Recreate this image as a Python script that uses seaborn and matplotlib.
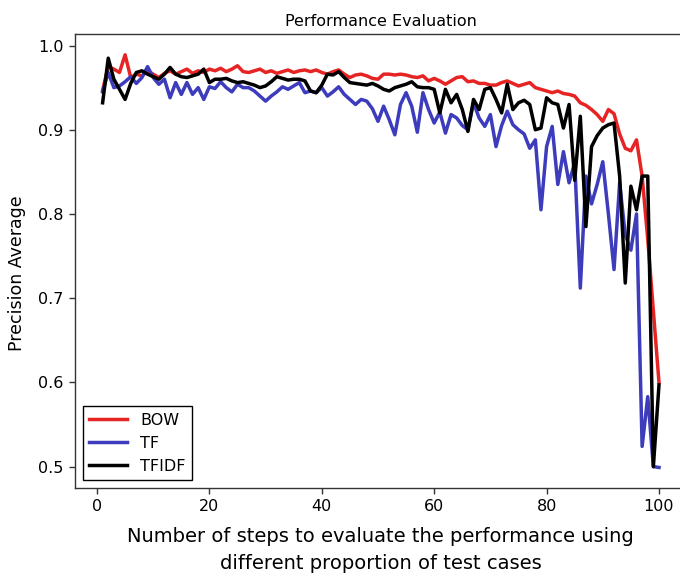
import numpy as np
import pandas as pd
import matplotlib
matplotlib.use("Agg")
import matplotlib.pyplot as plt
import seaborn as sns

steps = list(range(1, 101))

bow = [0.947, 0.975, 0.972, 0.968, 0.989, 0.962, 0.966, 0.964, 0.970, 0.966,
       0.962, 0.967, 0.970, 0.966, 0.969, 0.972, 0.967, 0.970, 0.968, 0.972,
       0.970, 0.973, 0.969, 0.972, 0.976, 0.969, 0.968, 0.970, 0.972, 0.968,
       0.970, 0.967, 0.969, 0.971, 0.968, 0.970, 0.971, 0.969, 0.971, 0.968,
       0.966, 0.969, 0.971, 0.966, 0.962, 0.965, 0.966, 0.964, 0.961, 0.960,
       0.966, 0.966, 0.965, 0.966, 0.965, 0.963, 0.962, 0.964, 0.958, 0.961,
       0.958, 0.954, 0.958, 0.962, 0.963, 0.957, 0.958, 0.955, 0.955, 0.953,
       0.953, 0.956, 0.958, 0.955, 0.952, 0.954, 0.956, 0.950, 0.948, 0.946,
       0.944, 0.946, 0.943, 0.942, 0.940, 0.932, 0.929, 0.924, 0.918, 0.910,
       0.924, 0.919, 0.895, 0.878, 0.875, 0.888, 0.845, 0.770, 0.685, 0.600]

tf = [0.945, 0.968, 0.950, 0.952, 0.957, 0.963, 0.955, 0.962, 0.975, 0.962,
      0.954, 0.960, 0.938, 0.956, 0.942, 0.956, 0.942, 0.950, 0.936, 0.951,
      0.949, 0.957, 0.950, 0.945, 0.954, 0.950, 0.950, 0.946, 0.940, 0.934,
      0.940, 0.945, 0.951, 0.948, 0.952, 0.956, 0.944, 0.946, 0.944, 0.950,
      0.940, 0.945, 0.951, 0.942, 0.936, 0.930, 0.936, 0.934, 0.925, 0.910,
      0.928, 0.912, 0.894, 0.930, 0.944, 0.928, 0.897, 0.944, 0.924, 0.908,
      0.921, 0.896, 0.918, 0.914, 0.905, 0.900, 0.932, 0.914, 0.904, 0.918,
      0.880, 0.905, 0.922, 0.906, 0.900, 0.895, 0.878, 0.888, 0.805, 0.880,
      0.904, 0.835, 0.874, 0.837, 0.861, 0.712, 0.845, 0.812, 0.835, 0.862,
      0.800, 0.734, 0.837, 0.775, 0.757, 0.800, 0.524, 0.583, 0.500, 0.499]

tfidf = [0.932, 0.985, 0.960, 0.948, 0.936, 0.955, 0.968, 0.970, 0.966, 0.963,
         0.960, 0.966, 0.974, 0.966, 0.963, 0.962, 0.964, 0.966, 0.972, 0.956,
         0.960, 0.960, 0.961, 0.958, 0.956, 0.957, 0.955, 0.953, 0.950, 0.952,
         0.957, 0.963, 0.961, 0.959, 0.960, 0.960, 0.958, 0.946, 0.944, 0.953,
         0.966, 0.965, 0.969, 0.962, 0.956, 0.955, 0.954, 0.953, 0.955, 0.952,
         0.948, 0.946, 0.950, 0.952, 0.954, 0.957, 0.951, 0.950, 0.950, 0.948,
         0.920, 0.948, 0.932, 0.942, 0.924, 0.898, 0.936, 0.924, 0.948, 0.950,
         0.936, 0.920, 0.954, 0.924, 0.932, 0.935, 0.930, 0.900, 0.902, 0.938,
         0.932, 0.930, 0.902, 0.930, 0.840, 0.916, 0.785, 0.880, 0.893, 0.902,
         0.906, 0.908, 0.845, 0.718, 0.833, 0.805, 0.845, 0.845, 0.500, 0.597]

methods = ["BOW", "TF", "TFIDF"]
colors = ["#e62424", "#3c3cbc", "#000000"]
x_ticks = [0, 20, 40, 60, 80, 100]
y_ticks = [0.5, 0.6, 0.7, 0.8, 0.9, 1.0]

df = pd.DataFrame({
    "step": steps * 3,
    "value": bow + tf + tfidf,
    "method": [m for m in methods for _ in steps],
})

plt.rcParams["font.family"] = ["DejaVu Sans"]
fig = plt.figure(figsize=(6.8, 5.79), dpi=100)
ax = fig.add_axes([0.110, 0.157, 0.90, 0.784])

sns.lineplot(data=df, x="step", y="value", hue="method", hue_order=methods,
             palette=colors, linewidth=2.5, ax=ax, legend=True)

ax.set_xlim(-3.95, 104.95)
ax.set_ylim(0.4745, 1.0135)
ax.set_xticks(x_ticks)
ax.set_yticks(y_ticks)
ax.set_xticklabels([str(t) for t in x_ticks])
ax.set_yticklabels([f"{t:.1f}" for t in y_ticks])
ax.tick_params(labelsize=11.5, length=4.5, width=1, color="#333333")
for s in ax.spines.values():
    s.set_color("#333333")
    s.set_linewidth(1.0)

ax.set_title("Performance Evaluation", fontsize=11.5, pad=6)
ax.set_ylabel("Precision Average", fontsize=12.5)
ax.yaxis.set_label_coords(-0.08, 0.474)
ax.set_xlabel("Number of steps to evaluate the performance using\ndifferent proportion of test cases",
              fontsize=14, labelpad=9, linespacing=1.55)

leg = ax.legend(loc="lower left", bbox_to_anchor=(0.013, 0.018), borderaxespad=0,
                fontsize=11.5, fancybox=False, edgecolor="black", framealpha=1,
                handlelength=2.4, title=None)
leg.get_frame().set_linewidth(1.0)

fig.savefig("out.png", dpi=100)
